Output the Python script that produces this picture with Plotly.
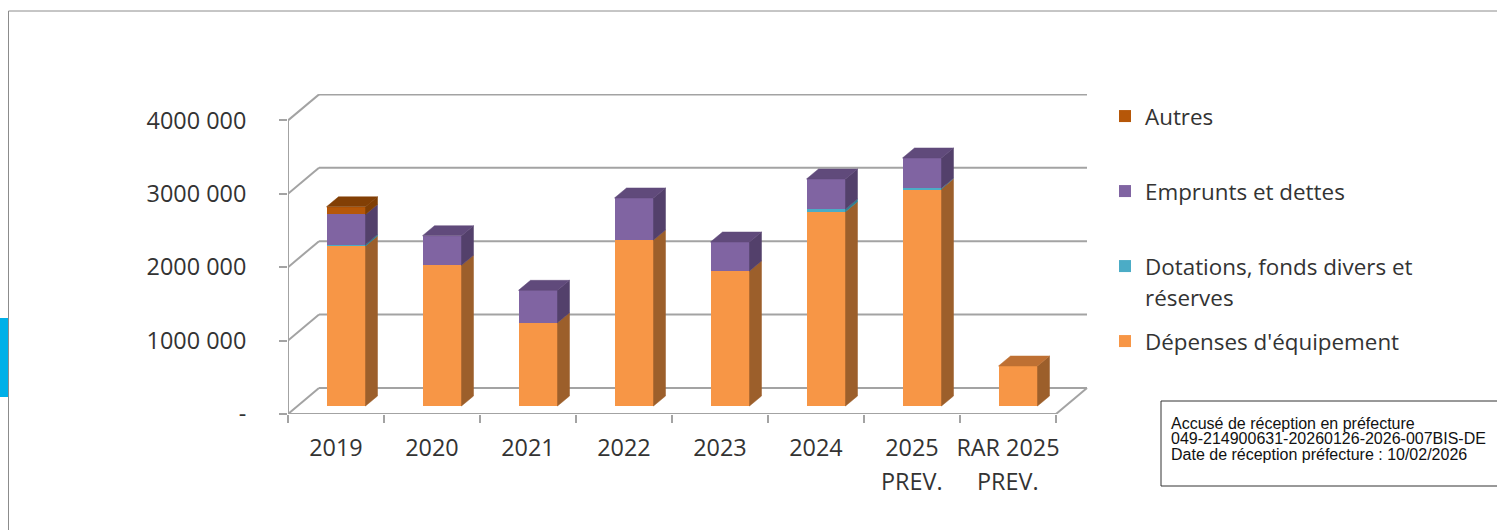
import plotly.graph_objects as go

W, H = 1497, 530

categories = ["2019", "2020", "2021", "2022", "2023", "2024", "2025", "RAR 2025"]
second_line = ["", "", "", "", "", "", "PREV.", "PREV."]

depenses = [2180000, 1917000, 1135000, 2262000, 1840000, 2647000, 2956000, 545000]
dotations = [20000, 0, 0, 0, 0, 36000, 10000, 0]
emprunts = [410000, 403000, 441000, 572000, 394000, 410000, 413000, 0]
autres = [104000, 0, 0, 0, 0, 0, 0, 0]

y_ticks = [0, 1000000, 2000000, 3000000, 4000000]
y_labels = ["-", "1000 000", "2000 000", "3000 000", "4000 000"]

names = ["Dépenses d'équipement", "Dotations, fonds divers et", "Emprunts et dettes", "Autres"]
front = ["#F79646", "#4BACC6", "#8064A2", "#B65708"]
side = ["#9C5F2B", "#2F7E91", "#53406B", "#7F3E04"]
top = ["#BE7033", "#3A8FA5", "#604A7B", "#823F05"]
legend_ids = ["legend4", "legend3", "legend2", "legend"]
legend_y_px = [320, 245, 170, 95]
legend_extra = "réserves"

receipt = ["Accusé de réception en préfecture",
           "049-214900631-20260126-2026-007BIS-DE",
           "Date de réception préfecture : 10/02/2026"]

FONT = "Open Sans"
FS = 23.4
FS_LEG = 22.4
TXT = "#333333"
GRID = "#a3a3a3"

# plot box in pixels
PX_L, PX_R, PX_T, PX_B = 288, 1088, 94, 414
PX_CAT = 96.0
PX_M = 73.4 / 1e6
x_max = (PX_R - PX_L) / PX_CAT
y_max = (PX_B - PX_T) / PX_M

# depth vectors, axis units
wall_dx, wall_dy = 31 / PX_CAT, 26 / PX_M
bar_x0, bar_y0 = 10 / PX_CAT, 8 / PX_M
bar_w = 39 / PX_CAT
face_dx, face_dy = 12 / PX_CAT, 10 / PX_M

series = [depenses, dotations, emprunts, autres]
fig = go.Figure()

cum = [bar_y0] * len(categories)
faces = []
for k, vals in enumerate(series):
    xs = [i + 0.5 + bar_x0 for i in range(len(categories))]
    fig.add_trace(go.Bar(x=xs, y=vals, base=list(cum), width=bar_w, name=names[k],
                         marker=dict(color=front[k], line=dict(width=0)),
                         legend=legend_ids[k], showlegend=True))
    for i, v in enumerate(vals):
        if v <= 0:
            continue
        r = xs[i] + bar_w / 2
        b, t = cum[i], cum[i] + v
        faces.append(([r, r + face_dx, r + face_dx, r, r],
                      [b, b + face_dy, t + face_dy, t, b], side[k]))
    cum = [c + v for c, v in zip(cum, vals)]

# top faces: colour of the highest non-empty series
for i in range(len(categories)):
    k = max(j for j in range(4) if series[j][i] > 0)
    xc = i + 0.5 + bar_x0
    l, r, t = xc - bar_w / 2, xc + bar_w / 2, cum[i]
    faces.append(([l, r, r + face_dx, l + face_dx, l],
                  [t, t, t + face_dy, t + face_dy, t], top[k]))

for xs, ys, col in faces:
    fig.add_trace(go.Scatter(x=xs, y=ys, mode="lines", fill="toself", fillcolor=col,
                             line=dict(width=0.5, color=col), showlegend=False, hoverinfo="skip"))

# walls and floor
n = len(categories)
shapes = []
line = dict(color=GRID, width=2)
for v in y_ticks:
    shapes.append(dict(type="line", xref="x", yref="y", layer="below", x0=0, y0=v,
                       x1=wall_dx, y1=v + wall_dy, line=line))
    shapes.append(dict(type="line", xref="x", yref="y", layer="below", x0=wall_dx, y0=v + wall_dy,
                       x1=n + wall_dx, y1=v + wall_dy, line=line))
shapes.append(dict(type="line", xref="x", yref="y", layer="below", x0=n, y0=0,
                   x1=n + wall_dx, y1=wall_dy, line=line))
shapes.append(dict(type="line", xref="x", yref="y", layer="below", x0=0, y0=0, x1=n, y1=0, line=line))
shapes.append(dict(type="line", xref="x", yref="y", layer="below", x0=0, y0=0, x1=0, y1=y_ticks[-1], line=line))

# page frame, blue tab, receipt box
def px(v): return v / W
def py(v): return 1 - v / H

shapes += [
    dict(type="line", xref="paper", yref="paper", x0=px(8.5), x1=px(8.5), y0=py(11), y1=py(530),
         line=dict(color="#8c8c8c", width=1)),
    dict(type="line", xref="paper", yref="paper", x0=px(8.5), x1=1, y0=py(11), y1=py(11),
         line=dict(color="#8c8c8c", width=1)),
    dict(type="rect", xref="paper", yref="paper", x0=0, x1=px(8), y0=py(397), y1=py(318),
         fillcolor="#00B0E8", line=dict(width=0)),
    dict(type="rect", xref="paper", yref="paper", x0=px(1161), x1=px(1500), y0=py(486), y1=py(401),
         fillcolor="#ffffff", line=dict(color="#333333", width=1)),
]

annotations = []
for i, t in enumerate(second_line):
    if t:
        annotations.append(dict(x=i + 0.5, y=py(481), xref="x", yref="paper", text=t, showarrow=False,
                                font=dict(family=FONT, size=FS, color=TXT), xanchor="center", yanchor="middle"))
annotations.append(dict(x=px(1143), y=py(297), xref="paper", yref="paper", text=legend_extra, showarrow=False,
                        font=dict(family=FONT, size=FS_LEG, color=TXT), xanchor="left", yanchor="middle"))
for j, t in enumerate(receipt):
    annotations.append(dict(x=px(1169), y=py(423 + j * 15.6), xref="paper", yref="paper", text=t, showarrow=False,
                            font=dict(family="Liberation Sans", size=16, color="#111111"),
                            xanchor="left", yanchor="middle"))

layout_legends = {}
for lid, lpx in zip(legend_ids, legend_y_px):
    layout_legends[lid] = dict(x=px(1105), y=py(lpx), xanchor="left", yanchor="top",
                               bgcolor="rgba(0,0,0,0)", borderwidth=0,
                               font=dict(family=FONT, size=FS_LEG, color=TXT))

fig.update_layout(
    width=W, height=H, autosize=False,
    margin=dict(l=0, r=0, t=0, b=0, autoexpand=False),
    paper_bgcolor="white", plot_bgcolor="rgba(0,0,0,0)",
    barmode="overlay", bargap=0,
    shapes=shapes, annotations=annotations,
    xaxis=dict(domain=[px(PX_L), px(PX_R)], range=[0, x_max], showgrid=False, zeroline=False,
               showline=False, tickmode="array",
               tickvals=[i + 0.5 for i in range(n)], ticktext=categories,
               ticks="", ticklabelstandoff=18,
               tickfont=dict(family=FONT, size=FS, color=TXT),
               minor=dict(tickmode="array", tickvals=list(range(n + 1)), ticks="outside",
                          ticklen=8, tickwidth=1.5, tickcolor=GRID, showgrid=False)),
    yaxis=dict(domain=[py(PX_B), py(PX_T)], range=[0, y_max], showgrid=False, zeroline=False,
               showline=False,
               tickmode="array", tickvals=y_ticks, ticktext=y_labels,
               ticks="outside", ticklen=8, tickwidth=1.5, tickcolor=GRID, ticklabelstandoff=28,
               tickfont=dict(family=FONT, size=FS, color=TXT)),
    **layout_legends,
)

fig.write_html("out.html", config={"displayModeBar": False},
               default_width="1497px", default_height="530px",
               post_script="document.body.style.margin='0';document.documentElement.style.overflow='hidden';")
